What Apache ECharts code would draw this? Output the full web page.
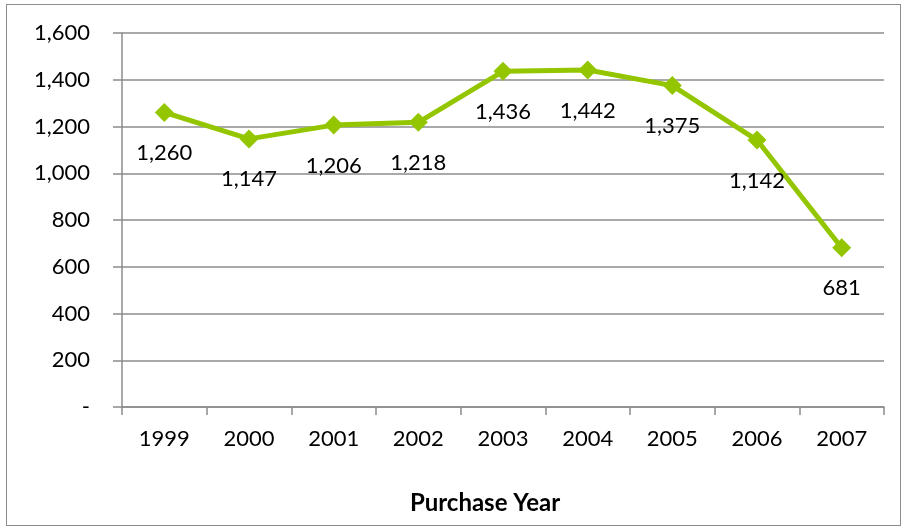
<!DOCTYPE html>
<html>
<head>
<meta charset="utf-8">
<script src="https://cdn.jsdelivr.net/npm/echarts@6/dist/echarts.min.js"></script>
<style>
  html, body { margin: 0; padding: 0; background: #fff; }
  #frame { position: absolute; left: 6px; top: 4px; width: 895px; height: 522px; border: 1px solid #8c8c8c; box-sizing: border-box; }
  #chart { width: 904px; height: 529px; position: absolute; left: 0; top: 0; }
</style>
</head>
<body>
<div id="frame"></div>
<div id="chart"></div>
<script>
// Purchases per year
const years = ['1999', '2000', '2001', '2002', '2003', '2004', '2005', '2006', '2007'];
const purchases = [1260, 1147, 1206, 1218, 1436, 1442, 1375, 1142, 681];
const yTicks = { min: 0, max: 1600, step: 200 };

const fmt = v => v === 0 ? '-' : v.toLocaleString('en-US');
const font = 'Lato, "Open Sans", sans-serif';
const gray = '#8c8c8c';

const chart = echarts.init(document.getElementById('chart'), null, { renderer: 'canvas' });
chart.setOption({
  animation: false,
  grid: { left: 122, right: 20, top: 33, bottom: 122 },
  xAxis: {
    type: 'category',
    data: years,
    boundaryGap: true,
    name: 'Purchase Year',
    nameLocation: 'middle',
    nameGap: 84,
    nameTextStyle: { fontFamily: font, fontSize: 24, fontWeight: 'bold', color: '#000', padding: [0, 36, 0, 0] },
    axisLine: { lineStyle: { color: gray, width: 1.5 } },
    axisTick: { show: true, length: 8, lineStyle: { color: gray, width: 1.5 } },
    axisLabel: { margin: 21, fontFamily: font, fontSize: 22, color: '#000' }
  },
  yAxis: {
    type: 'value',
    min: yTicks.min,
    max: yTicks.max,
    interval: yTicks.step,
    axisLine: { show: true, lineStyle: { color: gray, width: 1.5 } },
    axisTick: { show: true, length: 9, lineStyle: { color: gray, width: 1.5 } },
    splitLine: { lineStyle: { color: gray, width: 1.5 } },
    axisLabel: { margin: 32, fontFamily: font, fontSize: 22, color: '#000', formatter: fmt }
  },
  series: [{
    type: 'line',
    data: purchases,
    symbol: 'diamond',
    symbolSize: 19,
    lineStyle: { color: '#94c600', width: 5 },
    itemStyle: { color: '#94c600' },
    label: {
      show: true,
      position: 'bottom',
      distance: 20,
      fontFamily: font,
      fontSize: 22,
      color: '#000',
      formatter: p => fmt(p.value)
    }
  }]
});
</script>
</body>
</html>
